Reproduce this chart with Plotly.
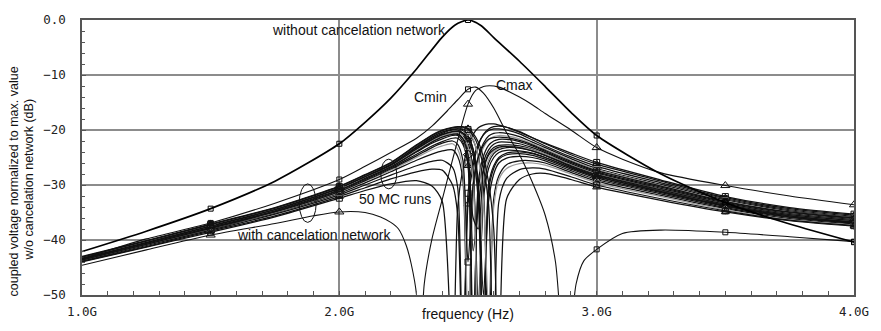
import plotly.graph_objects as go

# ---------------- data (frequency in GHz, level in dB) ----------------
FREQ_MAIN = [1.0, 1.25, 1.5, 1.75, 2.0, 2.1, 2.2, 2.3, 2.4, 2.45, 2.5, 2.55, 2.6, 2.7, 2.8, 2.9, 3.0, 3.25, 3.5, 3.75, 4.0]
DB_MAIN = [-42.1, -38.4, -34.3, -29.3, -22.5, -18.6, -14.2, -8.9, -3.1, -0.9, 0.0, -1.0, -3.2, -7.5, -12.1, -16.8, -21.0, -28.0, -33.2, -37.1, -40.4]

FREQ_CMIN = [1.0, 1.25, 1.5, 1.75, 2.0, 2.1, 2.2, 2.3, 2.36, 2.42, 2.46, 2.5, 2.53, 2.56, 2.6, 2.65, 2.7, 2.75, 2.8, 2.84, 2.88, 2.92, 2.95, 3.0, 3.1, 3.25, 3.5, 3.75, 4.0]
DB_CMIN = [-43.4, -39.8, -36.9, -33.3, -29.0, -26.6, -24.1, -21.5, -19.3, -16.5, -14.5, -12.6, -12.2, -13.3, -16.0, -20.5, -24.5, -29.5, -35.5, -44.0, -65.0, -48.0, -43.8, -41.7, -38.8, -38.2, -38.6, -39.4, -40.3]

FREQ_CMAX = [1.0, 1.25, 1.5, 1.75, 1.9, 2.0, 2.1, 2.16, 2.2, 2.23, 2.26, 2.28, 2.3, 2.31, 2.33, 2.36, 2.4, 2.45, 2.5, 2.53, 2.57, 2.62, 2.7, 2.75, 2.8, 2.9, 3.0, 3.1, 3.25, 3.5, 3.75, 4.0]
DB_CMAX = [-44.6, -41.8, -39.1, -37.0, -35.6, -34.9, -35.0, -35.8, -36.8, -38.0, -41.0, -44.5, -50.0, -65.0, -48.0, -39.8, -32.6, -23.6, -15.3, -12.8, -12.0, -12.2, -14.0, -15.4, -17.0, -20.0, -23.2, -25.3, -27.8, -30.1, -32.0, -33.6]

FREQ_MC = [1.0, 1.25, 1.5, 1.75, 2.0, 2.1, 2.2, 2.3, 2.36, 2.4, 2.44, 2.46, 2.48, 2.5, 2.52, 2.54, 2.56, 2.58, 2.6, 2.62, 2.65, 2.7, 2.75, 2.8, 2.9, 3.0, 3.25, 3.5, 3.75, 4.0]
mc_01 = [-44.0, -41.3, -38.6, -35.8, -32.4, -31.0, -29.8, -29.2, -30.2, -33.0, -65.0, -34.0, -27.0, -23.0, -20.8, -19.6, -19.1, -18.9, -18.9, -19.1, -19.5, -20.4, -21.4, -22.4, -24.2, -25.9, -29.1, -32.1, -34.1, -35.3]
mc_02 = [-43.9, -41.2, -38.4, -35.6, -32.1, -30.5, -28.9, -27.6, -27.1, -27.3, -30.0, -35.5, -65.0, -33.5, -26.5, -22.8, -20.8, -19.8, -19.4, -19.3, -19.5, -20.3, -21.4, -22.5, -24.5, -26.2, -29.3, -32.3, -34.3, -35.5]
mc_03 = [-43.8, -41.0, -38.2, -35.3, -31.8, -30.0, -28.2, -26.5, -25.7, -25.5, -26.8, -30.5, -65.0, -31.5, -25.5, -22.5, -20.9, -20.1, -19.8, -19.8, -20.0, -20.7, -21.8, -22.9, -24.9, -26.6, -29.6, -32.5, -34.5, -35.7]
mc_04 = [-43.7, -40.9, -38.0, -35.1, -31.5, -29.6, -27.6, -25.5, -24.4, -23.8, -23.6, -24.8, -29.0, -65.0, -30.0, -24.8, -22.4, -21.1, -20.6, -20.5, -20.6, -21.2, -22.2, -23.2, -25.2, -27.0, -29.9, -32.7, -34.7, -35.9]
mc_05 = [-43.6, -40.8, -37.9, -35.0, -31.3, -29.3, -27.3, -25.0, -23.6, -22.9, -22.5, -23.5, -27.5, -55.0, -31.5, -25.8, -23.2, -21.8, -21.2, -21.0, -21.1, -21.6, -22.5, -23.5, -25.5, -27.2, -30.1, -32.9, -34.9, -36.0]
mc_06 = [-43.6, -40.7, -37.8, -34.8, -31.0, -29.0, -26.9, -24.4, -22.9, -22.1, -21.5, -21.5, -22.6, -26.5, -65.0, -29.5, -24.8, -22.8, -22.0, -21.7, -21.7, -22.1, -22.9, -23.9, -25.9, -27.6, -30.4, -33.1, -35.0, -36.1]
mc_07 = [-43.5, -40.6, -37.7, -34.7, -30.9, -28.8, -26.7, -24.0, -22.4, -21.6, -21.0, -21.0, -22.2, -26.0, -58.0, -31.0, -25.8, -23.6, -22.6, -22.2, -22.2, -22.5, -23.2, -24.1, -26.1, -27.8, -30.6, -33.3, -35.2, -36.3]
mc_08 = [-43.5, -40.6, -37.6, -34.6, -30.8, -28.7, -26.5, -23.7, -22.0, -21.1, -20.6, -20.6, -21.5, -24.5, -42.0, -34.0, -27.0, -24.3, -23.2, -22.8, -22.7, -22.9, -23.5, -24.4, -26.4, -28.0, -30.8, -33.4, -35.3, -36.4]
mc_09 = [-43.4, -40.5, -37.5, -34.5, -30.7, -28.6, -26.4, -23.5, -21.8, -20.9, -20.3, -20.3, -20.8, -22.6, -27.5, -65.0, -30.5, -26.0, -24.3, -23.6, -23.2, -23.3, -23.8, -24.6, -26.6, -28.2, -31.0, -33.6, -35.5, -36.6]
mc_10 = [-43.3, -40.4, -37.4, -34.4, -30.5, -28.4, -26.2, -23.2, -21.5, -20.6, -20.0, -20.0, -20.6, -22.4, -27.8, -52.0, -32.5, -27.0, -25.0, -24.1, -23.7, -23.8, -24.2, -25.0, -26.9, -28.5, -31.2, -33.8, -35.6, -36.7]
mc_11 = [-43.5, -40.6, -37.6, -34.6, -30.8, -28.7, -26.6, -23.7, -22.0, -21.1, -20.6, -20.5, -21.0, -23.0, -29.0, -60.0, -29.5, -25.4, -23.9, -23.3, -23.0, -23.1, -23.6, -24.4, -26.4, -28.0, -30.9, -33.5, -35.4, -36.5]
mc_12 = [-43.3, -40.4, -37.4, -34.4, -30.5, -28.4, -26.2, -23.1, -21.3, -20.4, -19.9, -19.8, -20.1, -21.2, -23.6, -29.5, -65.0, -31.0, -27.0, -25.3, -24.5, -24.3, -24.6, -25.3, -27.1, -28.7, -31.4, -33.9, -35.8, -36.9]
mc_13 = [-43.2, -40.3, -37.3, -34.3, -30.4, -28.3, -26.1, -22.9, -21.1, -20.2, -19.7, -19.6, -19.9, -21.0, -23.5, -30.5, -50.0, -33.0, -28.0, -26.0, -25.1, -24.8, -25.0, -25.6, -27.4, -29.0, -31.6, -34.1, -35.9, -37.0]
mc_14 = [-43.4, -40.5, -37.5, -34.5, -30.6, -28.5, -26.4, -23.4, -21.7, -20.8, -20.3, -20.2, -20.5, -21.7, -24.5, -33.0, -62.0, -30.0, -26.5, -25.0, -24.2, -24.0, -24.3, -25.0, -26.8, -28.4, -31.2, -33.7, -35.6, -36.8]
mc_15 = [-43.2, -40.3, -37.3, -34.3, -30.4, -28.3, -26.1, -23.0, -21.2, -20.3, -19.8, -19.6, -19.7, -20.3, -21.8, -24.8, -31.0, -65.0, -32.5, -28.3, -26.3, -25.6, -25.6, -26.0, -27.7, -29.3, -31.9, -34.3, -36.1, -37.1]
mc_16 = [-43.1, -40.2, -37.2, -34.2, -30.3, -28.2, -26.0, -22.8, -21.0, -20.1, -19.6, -19.5, -19.6, -20.2, -21.7, -25.0, -33.0, -52.0, -34.0, -29.0, -27.0, -26.1, -26.0, -26.4, -28.0, -29.6, -32.1, -34.5, -36.3, -37.3]
mc_17 = [-43.1, -40.2, -37.2, -34.2, -30.3, -28.2, -26.0, -22.8, -21.0, -20.1, -19.6, -19.5, -19.5, -19.9, -21.0, -23.0, -26.8, -33.5, -65.0, -33.0, -28.8, -27.2, -26.9, -27.1, -28.5, -30.0, -32.5, -34.7, -36.4, -37.4]
mc_18 = [-43.0, -40.1, -37.1, -34.1, -30.2, -28.1, -25.9, -22.7, -20.9, -20.0, -19.5, -19.4, -19.4, -19.7, -20.6, -22.2, -25.0, -29.5, -38.0, -65.0, -32.5, -29.0, -28.0, -27.9, -29.0, -30.4, -32.8, -34.9, -36.5, -37.5]
mc_19 = [-43.6, -40.8, -37.9, -34.9, -31.2, -29.2, -27.1, -24.7, -23.2, -22.4, -22.0, -22.6, -25.5, -44.0, -30.0, -25.0, -22.8, -21.7, -21.4, -21.3, -21.4, -21.9, -22.7, -23.7, -25.7, -27.4, -30.2, -33.0, -34.9, -36.0]
mc_20 = [-43.5, -40.6, -37.7, -34.7, -30.9, -28.8, -26.7, -23.9, -22.2, -21.3, -20.8, -20.8, -21.6, -24.5, -36.0, -38.0, -27.5, -24.6, -23.6, -23.1, -23.0, -23.2, -23.8, -24.6, -26.5, -28.1, -30.9, -33.5, -35.4, -36.5]
MC_RUNS = [mc_01, mc_02, mc_03, mc_04, mc_05, mc_06, mc_07, mc_08, mc_09, mc_10,
           mc_11, mc_12, mc_13, mc_14, mc_15, mc_16, mc_17, mc_18, mc_19, mc_20]
MC_GREY = [mc_05, mc_11, mc_16]

MARKER_FREQS = [1.5, 2.0, 2.5, 3.0, 3.5, 4.0]

X_TICKS = [1.0, 2.0, 3.0, 4.0]
X_TICK_TEXT = ["1.0G", "2.0G", "3.0G", "4.0G"]
Y_TICKS = [0, -10, -20, -30, -40, -50]
Y_TICK_TEXT = ["0.0", "\u221210", "\u221220", "\u221230", "\u221240", "\u221250"]

# ---------------- figure ----------------
fig = go.Figure()


def add_curve(freqs, dbs, color, width, symbol, msize):
    fig.add_trace(go.Scatter(x=freqs, y=dbs, mode="lines",
                             line=dict(color=color, width=width, shape="spline", smoothing=0.7),
                             hoverinfo="skip"))
    mx = [f for f in freqs if any(abs(f - m) < 1e-9 for m in MARKER_FREQS)]
    my = [d for f, d in zip(freqs, dbs) if any(abs(f - m) < 1e-9 for m in MARKER_FREQS)]
    fig.add_trace(go.Scatter(x=mx, y=my, mode="markers",
                             marker=dict(symbol=symbol, size=msize, color=color,
                                         line=dict(color=color, width=1)),
                             hoverinfo="skip"))


symbols = ["square-open", "triangle-up-open", "square-open", "diamond-open"]
for i, run in enumerate(MC_RUNS):
    col = "#9a9a9a" if any(run is g for g in MC_GREY) else "#111111"
    sym = symbols[i % len(symbols)]
    add_curve(FREQ_MC, run, col, 1.25, sym, 6 if "square" in sym else 7)

add_curve(FREQ_CMIN, DB_CMIN, "#111111", 1.1, "square-open", 5)
add_curve(FREQ_CMAX, DB_CMAX, "#111111", 1.1, "triangle-up-open", 8)
add_curve(FREQ_MAIN, DB_MAIN, "#000000", 1.7, "square-open", 5)

# darker vertical line at 3.0G
fig.add_shape(type="line", x0=3.0, x1=3.0, y0=-50, y1=0, xref="x", yref="y",
              line=dict(color="#2a2a2a", width=1.2), layer="below")

# ellipses
fig.add_shape(type="circle", x0=1.844, x1=1.910, y0=-36.8, y1=-29.8, xref="x", yref="y",
              line=dict(color="#111111", width=1))
fig.add_shape(type="circle", x0=2.161, x1=2.223, y0=-30.7, y1=-25.3, xref="x", yref="y",
              line=dict(color="#111111", width=1))

TEXT_FONT = dict(family="Liberation Sans, Arial, sans-serif", size=14, color="#111111")
TITLE_FONT = dict(family="Liberation Sans, Arial, sans-serif", size=12.5, color="#111111")
labels = [
    ("without cancelation network", 2.076, -1.75),
    ("Cmin", 2.355, -14.0),
    ("Cmax", 2.68, -11.75),
    ("50 MC runs", 2.216, -32.46),
    ("with cancelation network", 1.902, -39.1),
]
for txt, fx, fy in labels:
    fig.add_annotation(x=fx, y=fy, xref="x", yref="y", text=txt, showarrow=False,
                       font=TEXT_FONT, xanchor="center", yanchor="middle",
                       bgcolor="rgba(0,0,0,0)")

# axis titles as annotations
fig.add_annotation(x=0.5006, y=-0.0702, xref="paper", yref="paper", text="frequency (Hz)",
                   showarrow=False, font=TEXT_FONT, xanchor="center", yanchor="middle")
fig.add_annotation(x=(14 - 82) / 775, y=(298 - 180) / 285, xref="paper", yref="paper",
                   text="coupled voltage normalized to max. value", textangle=-90,
                   showarrow=False, font=TITLE_FONT, xanchor="center", yanchor="middle")
fig.add_annotation(x=(29 - 82) / 775, y=(298 - 178) / 285, xref="paper", yref="paper",
                   text="w/o cancelation network (dB)", textangle=-90,
                   showarrow=False, font=TITLE_FONT, xanchor="center", yanchor="middle")

TICK_FONT = dict(family="DejaVu Sans Mono, monospace", size=12.5, color="#222222")
fig.update_xaxes(range=[1.0, 4.0], tickvals=X_TICKS, ticktext=X_TICK_TEXT,
                 ticks="inside", ticklen=4, tickcolor="#555555",
                 minor=dict(dtick=0.1, tick0=1.0, ticks="inside", ticklen=4, tickcolor="#555555", showgrid=False),
                 showline=True, linecolor="#555555", linewidth=1.5, mirror=True,
                 showgrid=True, gridcolor="#8c8c8c", gridwidth=1.5, zeroline=False,
                 tickfont=TICK_FONT, ticklabelstandoff=4)
fig.update_yaxes(range=[-50, 0], tickvals=Y_TICKS, ticktext=Y_TICK_TEXT,
                 ticks="inside", ticklen=4, tickcolor="#555555",
                 minor=dict(dtick=2, tick0=0, ticks="inside", ticklen=3, tickcolor="#555555", showgrid=False),
                 showline=True, linecolor="#555555", linewidth=1.5, mirror=True,
                 showgrid=True, gridcolor="#8c8c8c", gridwidth=1.5, zeroline=False,
                 tickfont=TICK_FONT, ticklabelstandoff=12)

fig.update_layout(width=881, height=331, margin=dict(l=82, r=24, t=13, b=33),
                  plot_bgcolor="white", paper_bgcolor="white", showlegend=False)

fig.write_html("out.html")
